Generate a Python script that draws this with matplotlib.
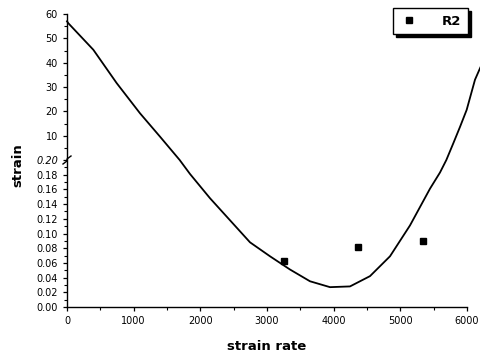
import numpy as np
import matplotlib
matplotlib.use("Agg")
import matplotlib.pyplot as plt
from matplotlib.ticker import MultipleLocator

# fitted curve, upper (large strain) part, left branch
up_left_x = [0, 20, 395, 745, 1095, 1395, 1690]
up_left_y = [57.0, 56.2, 45.3, 31.6, 19.2, 9.6, 0.0]
# fitted curve, lower (small strain) part
low_x = [1690, 1845, 2145, 2445, 2745, 3045, 3345, 3645, 3945, 4245,
         4545, 4845, 5145, 5445, 5595, 5690]
low_y = [0.20, 0.181, 0.148, 0.118, 0.088, 0.069, 0.051, 0.035, 0.027,
         0.028, 0.042, 0.069, 0.111, 0.161, 0.183, 0.20]
# fitted curve, upper part, right branch
up_right_x = [5690, 5795, 5895, 5995, 6120, 6200]
up_right_y = [0.0, 6.9, 13.6, 20.6, 33.0, 38.0]

# measured points
r2_x = [3250, 4370, 5345]
r2_y = [0.062, 0.082, 0.090]

low_ticks = [0.00, 0.02, 0.04, 0.06, 0.08, 0.10, 0.12, 0.14, 0.16, 0.18, 0.20]
up_ticks = [10, 20, 30, 40, 50, 60]
x_ticks = [0, 1000, 2000, 3000, 4000, 5000, 6000]

fig = plt.figure(figsize=(4.81, 3.6), dpi=100)
W, H = 481.0, 360.0
left, right = 67 / W, 467 / W
ax_up = fig.add_axes([left, 1 - 160 / H, right - left, (160 - 14) / H])
ax_low = fig.add_axes([left, 1 - 307 / H, right - left, (307 - 160) / H])

tickfont = 7

# lower axes
ax_low.plot(low_x, low_y, color="black", lw=1.3)
ax_low.plot(r2_x, r2_y, "s", color="black", ms=4, label="R2")
ax_low.set_xlim(0, 6000)
ax_low.set_ylim(0, 0.20)
ax_low.set_yticks(low_ticks)
ax_low.set_yticklabels(["%.2f" % v for v in low_ticks])
ax_low.yaxis.get_ticklabels()[-1].set_fontstyle("italic")
ax_low.yaxis.set_minor_locator(MultipleLocator(0.01))
ax_low.set_xticks(x_ticks)
ax_low.xaxis.set_minor_locator(MultipleLocator(500))
ax_low.spines["top"].set_visible(False)
ax_low.spines["right"].set_visible(False)
ax_low.tick_params(labelsize=tickfont, direction="out", length=3, width=0.9)
ax_low.tick_params(which="minor", direction="out", length=2, width=0.8)
ax_low.set_xlabel("strain rate", fontsize=9.5, fontweight="bold", labelpad=10)

# upper axes
ax_up.plot(up_left_x, up_left_y, color="black", lw=1.3, clip_on=False)
ax_up.plot(up_right_x, up_right_y, color="black", lw=1.3, clip_on=False)
ax_up.set_xlim(0, 6000)
ax_up.set_ylim(0, 60)
ax_up.set_yticks(up_ticks)
ax_up.yaxis.set_minor_locator(MultipleLocator(5))
ax_up.set_xticks([])
for s in ["top", "right", "bottom"]:
    ax_up.spines[s].set_visible(False)
ax_up.tick_params(labelsize=tickfont, direction="out", length=3, width=0.9)
ax_up.tick_params(which="minor", direction="out", length=2, width=0.8)
ax_up.patch.set_alpha(0)

for ax in (ax_up, ax_low):
    for s in ax.spines.values():
        s.set_linewidth(1.0)

# axis break mark
bx = np.array([-4, 0, 0, 4]) / W
by = np.array([-4, -1, 1, 4]) / H
fig.lines.append(plt.Line2D(left + bx, 1 - 160 / H + by, color="black", lw=1.0,
                            transform=fig.transFigure))

fig.text(18 / W, 1 - 165 / H, "strain", rotation=90, fontsize=9.5,
         fontweight="bold", ha="center", va="center")

leg = ax_low.legend(loc="upper right", bbox_to_anchor=(468 / W, 1 - 8 / H),
                    bbox_transform=fig.transFigure, frameon=True, fancybox=False,
                    shadow={"color": "black", "alpha": 1}, edgecolor="black",
                    framealpha=1, prop={"weight": "bold", "size": 9.5},
                    handletextpad=1.8, borderpad=0.5, handlelength=1.4,
                    borderaxespad=0)
leg.get_frame().set_linewidth(1.0)

fig.savefig("out.png", dpi=100)
